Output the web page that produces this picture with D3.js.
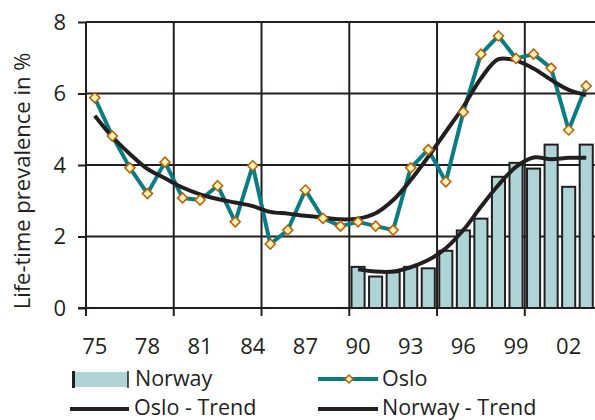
<!DOCTYPE html>
<html>
<head>
<meta charset="utf-8">
<script src="https://cdn.jsdelivr.net/npm/d3@7/dist/d3.min.js"></script>
<style>
  html, body { margin: 0; padding: 0; background: #fff; }
  svg { display: block; }
  text { font-family: "Open Sans", "DejaVu Sans", sans-serif; fill: #231f20; }
</style>
</head>
<body>
<svg id="chart" width="595" height="420"></svg>
<script>
// ---- Data ----
const years = [1975,1976,1977,1978,1979,1980,1981,1982,1983,1984,1985,1986,1987,1988,1989,
               1990,1991,1992,1993,1994,1995,1996,1997,1998,1999,2000,2001,2002,2003];
const norwayYears = [1990,1991,1992,1993,1994,1995,1996,1997,1998,1999,2000,2001,2002,2003];
const norway = [1.15,0.88,1.00,1.15,1.11,1.60,2.17,2.50,3.67,4.06,3.90,4.57,3.39,4.57];
const oslo = [5.88,4.81,3.92,3.20,4.08,3.08,3.02,3.42,2.41,3.98,1.79,2.18,3.30,2.51,2.29,
              2.41,2.29,2.18,3.92,4.43,3.53,5.48,7.10,7.61,6.98,7.10,6.71,4.98,6.21];
const osloTrend = [5.38,4.79,4.31,3.89,3.63,3.37,3.18,3.05,2.95,2.85,2.69,2.64,2.58,2.53,2.48,
                   2.50,2.65,3.02,3.58,4.23,4.93,5.63,6.42,6.96,6.92,6.70,6.38,6.10,5.96];
const norwayTrend = [1.08,1.02,1.02,1.14,1.34,1.67,2.18,2.83,3.44,3.95,4.21,4.16,4.20,4.20];
const yTicks = [0,2,4,6,8];
const xLabelYears = [1975,1978,1981,1984,1987,1990,1993,1996,1999,2002];
const xLabels = ["75","78","81","84","87","90","93","96","99","02"];
const gridYears = [1975,1980,1985,1990,1995,2000];
const yTitle = "Life-time prevalence in %";
const legendItems = ["Norway","Oslo","Oslo - Trend","Norway - Trend"];

(function () {
// ---- Layout ----
const svg = d3.select("#chart");
const pL = 86, pR = 595, pT = 22, pB = 308;
const dark = "#231f20";
const teal = "#0a7c83";
const barFill = "#aed4d6";

const x = d3.scaleBand().domain(years).range([pL, pR]).padding(0);
const step = x.step();
const cx = d => x(d) + step / 2;
const y = d3.scaleLinear().domain([0, 8]).range([pB, pT]);

// Grid
const grid = svg.append("g");
grid.selectAll("line.h").data(yTicks.filter(v => v > 0)).join("line")
  .attr("class", "h")
  .attr("x1", pL).attr("x2", pR)
  .attr("y1", d => y(d)).attr("y2", d => y(d))
  .attr("stroke", dark).attr("stroke-width", 2);
grid.selectAll("line.v").data(gridYears.slice(1)).join("line")
  .attr("class", "v")
  .attr("x1", d => x(d)).attr("x2", d => x(d))
  .attr("y1", pT).attr("y2", pB)
  .attr("stroke", dark).attr("stroke-width", 2);

// Bars
const bw = step * 0.86;
svg.append("g").selectAll("rect").data(norwayYears.map((yr, i) => ({yr, v: norway[i]}))).join("rect")
  .attr("x", d => x(d.yr) + (step - bw) / 2 + 1)
  .attr("width", bw - 2)
  .attr("y", d => y(d.v))
  .attr("height", d => y(0) - y(d.v))
  .attr("fill", barFill).attr("stroke", dark).attr("stroke-width", 2);

// Axes
const xAxisG = svg.append("g");
xAxisG.append("line").attr("x1", pL - 8).attr("x2", pR).attr("y1", pB).attr("y2", pB)
  .attr("stroke", dark).attr("stroke-width", 2);
xAxisG.selectAll("line.tk").data(gridYears).join("line")
  .attr("class", "tk")
  .attr("x1", d => x(d)).attr("x2", d => x(d))
  .attr("y1", pB).attr("y2", pB + 8)
  .attr("stroke", dark).attr("stroke-width", 2);
xAxisG.selectAll("text").data(xLabelYears).join("text")
  .attr("x", d => cx(d)).attr("y", pB + 46)
  .attr("text-anchor", "middle").attr("font-size", 22)
  .text((d, i) => xLabels[i]);

const yAxisG = svg.append("g").attr("transform", `translate(${pL},0)`)
  .call(d3.axisLeft(y).tickValues(yTicks).tickSize(8).tickPadding(12).tickFormat(d3.format("d")));
yAxisG.select(".domain").remove();
yAxisG.append("line").attr("x1", 0).attr("x2", 0).attr("y1", pT).attr("y2", pB + 8)
  .attr("stroke", dark).attr("stroke-width", 2);
yAxisG.selectAll(".tick line").attr("stroke", dark).attr("stroke-width", 2);
yAxisG.selectAll(".tick text").attr("font-size", 22).attr("font-family", "Open Sans").attr("fill", dark);

svg.append("text")
  .attr("transform", `translate(30,${(pT + pB) / 2 + 16}) rotate(-90)`)
  .attr("text-anchor", "middle").attr("font-size", 22)
  .text(yTitle);

// Lines
const curve = d3.line().curve(d3.curveCatmullRom.alpha(0.5));
svg.append("path")
  .attr("d", curve(norwayYears.map((yr, i) => [cx(yr), y(norwayTrend[i])])))
  .attr("fill", "none").attr("stroke", dark).attr("stroke-width", 4);
svg.append("path")
  .attr("d", d3.line()(years.map((yr, i) => [cx(yr), y(oslo[i])])))
  .attr("fill", "none").attr("stroke", teal).attr("stroke-width", 4).attr("stroke-linejoin", "round");
svg.append("path")
  .attr("d", curve(years.map((yr, i) => [cx(yr), y(osloTrend[i])])))
  .attr("fill", "none").attr("stroke", dark).attr("stroke-width", 4);

const diamond = "M0,-5L5,0L0,5L-5,0Z";
svg.append("g").selectAll("path").data(years.map((yr, i) => ({yr, v: oslo[i]}))).join("path")
  .attr("transform", d => `translate(${cx(d.yr)},${y(d.v)})`)
  .attr("d", diamond)
  .attr("fill", "#fff4b5").attr("stroke", "#b8630c").attr("stroke-width", 1.6);

// Legend
const fs = 21.5;
const lg = svg.append("g");
lg.append("rect").attr("x", 73).attr("y", 372).attr("width", 55).attr("height", 15).attr("fill", barFill);
lg.append("line").attr("x1", 73.5).attr("x2", 73.5).attr("y1", 371).attr("y2", 388).attr("stroke", dark).attr("stroke-width", 3);
lg.append("line").attr("x1", 128).attr("x2", 128).attr("y1", 371).attr("y2", 388).attr("stroke", dark).attr("stroke-width", 1.5);
lg.append("text").attr("x", 135).attr("y", 386).attr("font-size", fs).text(legendItems[0]);

lg.append("line").attr("x1", 318).attr("x2", 378).attr("y1", 379).attr("y2", 379).attr("stroke", teal).attr("stroke-width", 4);
lg.append("path").attr("transform", "translate(349,379)").attr("d", "M0,-4L4,0L0,4L-4,0Z")
  .attr("fill", "#fff4b5").attr("stroke", "#b8630c").attr("stroke-width", 1.5);
lg.append("text").attr("x", 382).attr("y", 386).attr("font-size", fs).text(legendItems[1]);

lg.append("line").attr("x1", 70).attr("x2", 129).attr("y1", 409).attr("y2", 409).attr("stroke", dark).attr("stroke-width", 4);
lg.append("text").attr("x", 134).attr("y", 415).attr("font-size", fs).text(legendItems[2]);
lg.append("line").attr("x1", 318).attr("x2", 378).attr("y1", 409).attr("y2", 409).attr("stroke", dark).attr("stroke-width", 4);
lg.append("text").attr("x", 382).attr("y", 415).attr("font-size", fs).text(legendItems[3]);
})();
</script>
</body>
</html>
